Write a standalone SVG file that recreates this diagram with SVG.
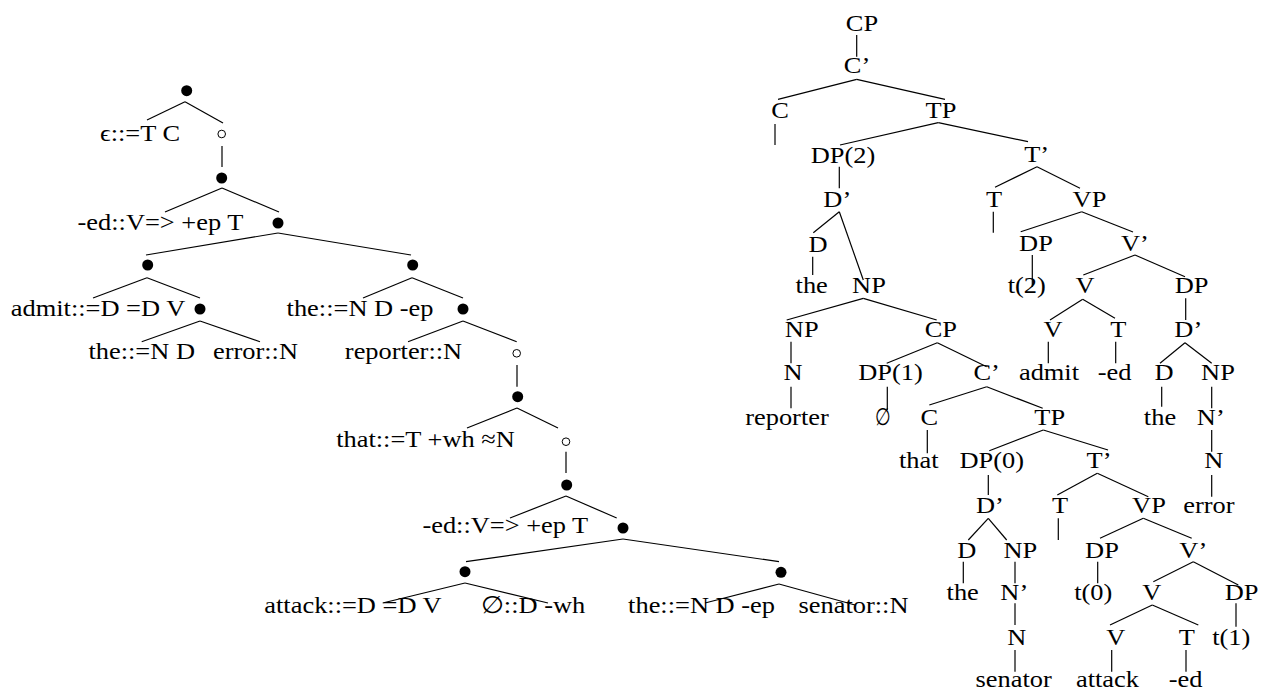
<svg xmlns="http://www.w3.org/2000/svg" width="1262" height="692" viewBox="0 0 1262 692">
<style>
  text { font-family: "Liberation Serif", "DejaVu Serif", serif; font-size: 24px; text-anchor: middle; fill: #000;
         transform-box: fill-box; transform-origin: center; transform: scaleX(1.1); }
  text.narrow { transform: scaleX(0.75); }
  .e line { stroke: #000; stroke-width: 1.2; }
  .dot { fill: #000; }
  .ring { fill: #fff; stroke: #000; stroke-width: 1; }
</style>
<rect width="1262" height="692" fill="#fff"/>

<!-- derivation tree: connectors -->
<g id="derivation-edges" class="e">
  <line x1="185" y1="101.7" x2="147" y2="120"/><line x1="185" y1="101.7" x2="223" y2="123"/>
  <line x1="222" y1="146" x2="222" y2="167"/>
  <line x1="222" y1="188" x2="165" y2="212"/><line x1="222" y1="188" x2="279" y2="212"/>
  <line x1="278" y1="233" x2="146" y2="255"/><line x1="278" y1="233" x2="411" y2="255"/>
  <line x1="147" y1="277.7" x2="93" y2="298"/><line x1="147" y1="277.7" x2="200" y2="298"/>
  <line x1="200" y1="321" x2="141.7" y2="341.7"/><line x1="200" y1="321" x2="260" y2="341.7"/>
  <line x1="412" y1="277.7" x2="363" y2="298"/><line x1="412" y1="277.7" x2="463" y2="298"/>
  <line x1="463" y1="321" x2="408" y2="341.7"/><line x1="463" y1="321" x2="516.7" y2="341.7"/>
  <line x1="517" y1="365" x2="517" y2="386.7"/>
  <line x1="517" y1="408" x2="467" y2="428"/><line x1="517" y1="408" x2="558" y2="428"/>
  <line x1="566" y1="451.7" x2="566" y2="473"/>
  <line x1="566" y1="496" x2="510" y2="518"/><line x1="566" y1="496" x2="616.7" y2="518"/>
  <line x1="623" y1="539" x2="466" y2="561.7"/><line x1="623" y1="539" x2="779" y2="561.7"/>
  <line x1="465" y1="583" x2="382.7" y2="603"/><line x1="465" y1="583" x2="548" y2="603"/>
  <line x1="779" y1="584" x2="705" y2="603"/><line x1="779" y1="584" x2="855" y2="605"/>
</g>

<!-- derivation tree: nodes -->
<g id="d0"><circle class="dot" cx="186.7" cy="90.7" r="5.5"/></g>
<g id="d-eps"><text x="140" y="141">ϵ::=T C</text></g>
<g id="d1"><circle class="ring" cx="221.7" cy="134" r="3.8"/></g>
<g id="d2"><circle class="dot" cx="221.7" cy="178" r="5.5"/></g>
<g id="d-ed1"><text x="160.5" y="230">-ed::V=&gt; +ep T</text></g>
<g id="d3"><circle class="dot" cx="278" cy="223" r="5.5"/></g>
<g id="d4"><circle class="dot" cx="147.7" cy="265" r="5.5"/></g>
<g id="d5"><circle class="dot" cx="412.7" cy="265" r="5.5"/></g>
<g id="d-admit"><text x="98" y="316">admit::=D =D V</text></g>
<g id="d6"><circle class="dot" cx="200" cy="309" r="5.5"/></g>
<g id="d-the1"><text x="141.7" y="359">the::=N D</text></g>
<g id="d-error"><text x="255.5" y="359">error::N</text></g>
<g id="d-the2"><text x="360" y="316">the::=N D -ep</text></g>
<g id="d7"><circle class="dot" cx="463" cy="309" r="5.5"/></g>
<g id="d-reporter"><text x="403.5" y="359">reporter::N</text></g>
<g id="d8"><circle class="ring" cx="516.7" cy="353.3" r="3.8"/></g>
<g id="d9"><circle class="dot" cx="517.7" cy="396.7" r="5.5"/></g>
<g id="d-that"><text x="425.5" y="447">that::=T +wh ≈N</text></g>
<g id="d10"><circle class="ring" cx="566" cy="441.7" r="3.8"/></g>
<g id="d11"><circle class="dot" cx="566.7" cy="485" r="5.5"/></g>
<g id="d-ed2"><text x="505.3" y="533">-ed::V=&gt; +ep T</text></g>
<g id="d12"><circle class="dot" cx="623" cy="528" r="5.5"/></g>
<g id="d13"><circle class="dot" cx="465" cy="571.7" r="5.5"/></g>
<g id="d14"><circle class="dot" cx="781" cy="572.3" r="5.5"/></g>
<g id="d-attack"><text x="353" y="613">attack::=D =D V</text></g>
<g id="d-empty"><text x="533" y="613">∅::D -wh</text></g>
<g id="d-the3"><text x="701.5" y="613">the::=N D -ep</text></g>
<g id="d-senator"><text x="853.5" y="613">senator::N</text></g>

<!-- phrase structure tree: connectors -->
<g id="phrase-edges" class="e">
  <line x1="856.7" y1="35" x2="856.7" y2="56.7"/>
  <line x1="856.7" y1="79.3" x2="778" y2="99.3"/><line x1="856.7" y1="79.3" x2="945" y2="99.3"/>
  <line x1="775" y1="124" x2="775" y2="145"/>
  <line x1="938.3" y1="122.7" x2="840" y2="145"/><line x1="938.3" y1="122.7" x2="1028" y2="141.7"/>
  <line x1="839.3" y1="166.7" x2="839.3" y2="188.3"/>
  <line x1="839.3" y1="211.7" x2="813.3" y2="232.7"/><line x1="839.3" y1="211.7" x2="863.3" y2="280"/>
  <line x1="1037" y1="166.7" x2="995" y2="187.3"/><line x1="1037" y1="166.7" x2="1080" y2="188.3"/>
  <line x1="993.3" y1="211.7" x2="993.3" y2="232.7"/>
  <line x1="1081.7" y1="211.7" x2="1020.7" y2="231.7"/><line x1="1081.7" y1="211.7" x2="1133" y2="232"/>
  <line x1="1032.3" y1="255" x2="1032.3" y2="286.7"/>
  <line x1="1135" y1="255" x2="1083.3" y2="275"/><line x1="1135" y1="255" x2="1185" y2="276.7"/>
  <line x1="1082.7" y1="299.3" x2="1050" y2="320"/><line x1="1082.7" y1="299.3" x2="1115" y2="318.3"/>
  <line x1="1185.7" y1="298.3" x2="1185.7" y2="320"/>
  <line x1="1048.3" y1="341.7" x2="1048.3" y2="363.3"/>
  <line x1="1115.7" y1="341.7" x2="1115.7" y2="363.3"/>
  <line x1="1185" y1="342.7" x2="1160" y2="363.3"/><line x1="1185" y1="342.7" x2="1211.7" y2="363.3"/>
  <line x1="1161.7" y1="386.7" x2="1161.7" y2="406.7"/>
  <line x1="1211.7" y1="386.7" x2="1211.7" y2="408.3"/>
  <line x1="1211.7" y1="430" x2="1211.7" y2="451.7"/>
  <line x1="1211.7" y1="475" x2="1211.7" y2="496.7"/>
  <line x1="812.7" y1="256.7" x2="812.7" y2="275"/>
  <line x1="863.3" y1="298.3" x2="786.7" y2="320"/><line x1="863.3" y1="298.3" x2="936.7" y2="320"/>
  <line x1="791" y1="341.7" x2="791" y2="363.3"/>
  <line x1="937.3" y1="342.7" x2="886.7" y2="363.3"/><line x1="937.3" y1="342.7" x2="986.7" y2="366.7"/>
  <line x1="791" y1="386.7" x2="791" y2="408.3"/>
  <line x1="887.3" y1="386.7" x2="887.3" y2="410"/>
  <line x1="986.7" y1="386.7" x2="929.3" y2="405"/><line x1="986.7" y1="386.7" x2="1042.7" y2="408.3"/>
  <line x1="927.3" y1="430" x2="927.3" y2="453.3"/>
  <line x1="1043.3" y1="430" x2="989.3" y2="450.7"/><line x1="1043.3" y1="430" x2="1108" y2="450"/>
  <line x1="988.3" y1="475" x2="988.3" y2="495"/>
  <line x1="1097.3" y1="473.3" x2="1057.3" y2="495"/><line x1="1097.3" y1="473.3" x2="1148.3" y2="496.7"/>
  <line x1="988.3" y1="518.3" x2="968.3" y2="540"/><line x1="988.3" y1="518.3" x2="1006.7" y2="540"/>
  <line x1="1058.3" y1="518.3" x2="1058.3" y2="540"/>
  <line x1="1143.3" y1="518.3" x2="1100" y2="538.3"/><line x1="1143.3" y1="518.3" x2="1191.7" y2="538.3"/>
  <line x1="963.3" y1="561.7" x2="963.3" y2="583.3"/>
  <line x1="1015" y1="561.7" x2="1015" y2="583.3"/>
  <line x1="1097.7" y1="561.7" x2="1097.7" y2="583.3"/>
  <line x1="1193.3" y1="561.7" x2="1153.3" y2="581.7"/><line x1="1193.3" y1="561.7" x2="1238.3" y2="585"/>
  <line x1="1015" y1="603.3" x2="1015" y2="625"/>
  <line x1="1152.3" y1="605" x2="1110" y2="625"/><line x1="1152.3" y1="605" x2="1198.3" y2="625"/>
  <line x1="1236" y1="603.3" x2="1236" y2="626.7"/>
  <line x1="1015" y1="650" x2="1015" y2="671.7"/>
  <line x1="1111.7" y1="650" x2="1111.7" y2="671.7"/>
  <line x1="1186" y1="650" x2="1186" y2="671.7"/>
</g>

<!-- phrase structure tree: nodes -->
<g id="p-cp"><text x="862" y="31">CP</text></g>
<g id="p-cbar"><text x="857" y="72.7">C’</text></g>
<g id="p-c"><text x="780" y="118">C</text></g>
<g id="p-tp"><text x="941" y="118">TP</text></g>
<g id="p-dp2"><text x="843" y="163.3">DP(2)</text></g>
<g id="p-tbar"><text x="1036.7" y="161.7">T’</text></g>
<g id="p-dbar"><text x="837.3" y="206.7">D’</text></g>
<g id="p-t"><text x="994" y="206.7">T</text></g>
<g id="p-vp"><text x="1089.5" y="206.7">VP</text></g>
<g id="p-d"><text x="818" y="251.7">D</text></g>
<g id="p-dp-t2"><text x="1036" y="250.7">DP</text></g>
<g id="p-vbar"><text x="1135" y="250.7">V’</text></g>
<g id="p-the1"><text x="811.7" y="293.3">the</text></g>
<g id="p-np"><text x="869" y="293.3">NP</text></g>
<g id="p-t2"><text x="1026.7" y="293.3">t(2)</text></g>
<g id="p-v"><text x="1085" y="293.3">V</text></g>
<g id="p-dp-obj"><text x="1191.7" y="293.3">DP</text></g>
<g id="p-np2"><text x="801.7" y="336.7">NP</text></g>
<g id="p-cp2"><text x="940.8" y="336.7">CP</text></g>
<g id="p-v2"><text x="1053" y="336.7">V</text></g>
<g id="p-t3"><text x="1118.3" y="336.7">T</text></g>
<g id="p-dbar2"><text x="1188.3" y="336.7">D’</text></g>
<g id="p-n"><text x="793" y="380">N</text></g>
<g id="p-dp1"><text x="890.5" y="380">DP(1)</text></g>
<g id="p-cbar2"><text x="986.7" y="380">C’</text></g>
<g id="p-admit"><text x="1049" y="380">admit</text></g>
<g id="p-ed1"><text x="1114.7" y="380">-ed</text></g>
<g id="p-d2"><text x="1164" y="380">D</text></g>
<g id="p-np3"><text x="1218" y="380">NP</text></g>
<g id="p-reporter"><text x="787" y="425">reporter</text></g>
<g id="p-empty"><text class="narrow" x="883" y="425">∅</text></g>
<g id="p-c2"><text x="929.3" y="425">C</text></g>
<g id="p-tp2"><text x="1049.7" y="425">TP</text></g>
<g id="p-the2"><text x="1160" y="425">the</text></g>
<g id="p-nbar"><text x="1210.8" y="425">N’</text></g>
<g id="p-that"><text x="918.7" y="468.3">that</text></g>
<g id="p-dp0"><text x="991.7" y="468.3">DP(0)</text></g>
<g id="p-tbar2"><text x="1099" y="468.3">T’</text></g>
<g id="p-n2"><text x="1213.7" y="468.3">N</text></g>
<g id="p-dbar3"><text x="990" y="513.3">D’</text></g>
<g id="p-t4"><text x="1060" y="513.3">T</text></g>
<g id="p-vp2"><text x="1149" y="513.3">VP</text></g>
<g id="p-error"><text x="1209" y="513">error</text></g>
<g id="p-d3"><text x="966.7" y="558.3">D</text></g>
<g id="p-np4"><text x="1020.3" y="558.3">NP</text></g>
<g id="p-dp-t0"><text x="1102" y="558.3">DP</text></g>
<g id="p-vbar2"><text x="1193.3" y="558.3">V’</text></g>
<g id="p-the3"><text x="962.7" y="600">the</text></g>
<g id="p-nbar2"><text x="1014.3" y="600">N’</text></g>
<g id="p-t0"><text x="1093.3" y="600">t(0)</text></g>
<g id="p-v3"><text x="1151.7" y="600">V</text></g>
<g id="p-dp-t1"><text x="1241.7" y="600">DP</text></g>
<g id="p-n3"><text x="1016.7" y="645">N</text></g>
<g id="p-v4"><text x="1115.8" y="645">V</text></g>
<g id="p-t5"><text x="1186.7" y="645">T</text></g>
<g id="p-t1"><text x="1231.3" y="645">t(1)</text></g>
<g id="p-senator"><text x="1013.7" y="687">senator</text></g>
<g id="p-attack"><text x="1107.5" y="687">attack</text></g>
<g id="p-ed2"><text x="1185.5" y="687">-ed</text></g>
</svg>
